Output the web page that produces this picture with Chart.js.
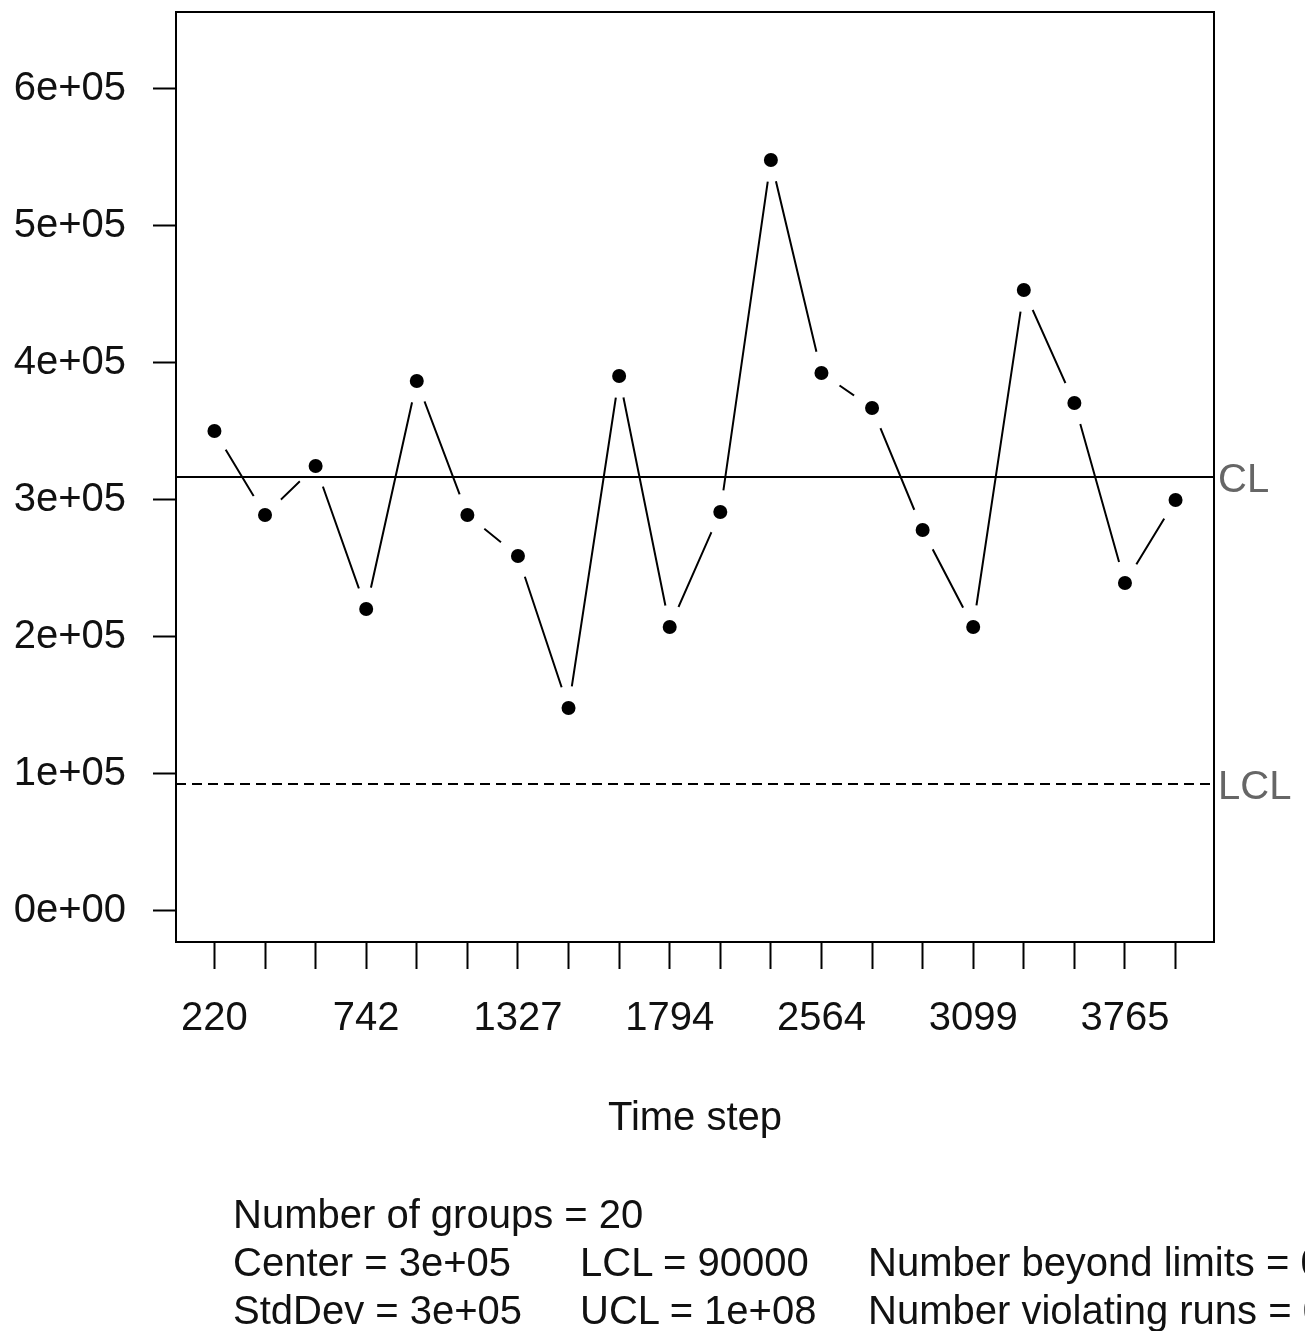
<!DOCTYPE html>
<html>
<head>
<meta charset="utf-8">
<script src="https://cdn.jsdelivr.net/npm/chart.js@4/dist/chart.umd.min.js"></script>
<style>
  html, body { margin: 0; padding: 0; background: #fff; overflow: hidden; width: 1305px; height: 1331px; }
  #wrap { position: relative; width: 1305px; height: 1331px; overflow: hidden; }
  #c { position: absolute; left: 0; top: 0; }
  .stat { position: absolute; font-family: "Liberation Sans", Arial, sans-serif; font-size: 40px;
          line-height: 48px; color: #111; white-space: nowrap; }
</style>
</head>
<body>
<div id="wrap">
  <canvas id="c" width="1305" height="1331"></canvas>
</div>
<script>
// Group statistics (one value per time-step group)
const groupIndex  = [1, 2, 3, 4, 5, 6, 7, 8, 9, 10, 11, 12, 13, 14, 15, 16, 17, 18, 19, 20];
const groupValues = [350400, 289100, 324800, 220400, 386900, 289100, 259100, 148200, 390500, 207300,
                     291200, 548200, 392700, 367200, 278100, 207300, 453300, 370800, 239400, 300000];

// Labelled positions along the time axis
const tickPositions = [1, 4, 7, 10, 13, 16, 19];
const tickLabels    = ['220', '742', '1327', '1794', '2564', '3099', '3765'];

// Value axis
const yTickValues = [0, 100000, 200000, 300000, 400000, 500000, 600000];
const yTickLabels = ['0e+00', '1e+05', '2e+05', '3e+05', '4e+05', '5e+05', '6e+05'];

// Control limits
const centerLine = 316800;
const lowerLimit = 92700;

// Axis ranges
const xRange = [0.24, 20.76];
const yRange = [-22628, 656200];

// Summary block under the chart: columns of lines
const summaryColumns = [
  ['Number of groups = 20', 'Center = 3e+05', 'StdDev = 3e+05'],
  ['', 'LCL = 90000', 'UCL = 1e+08'],
  ['', 'Number beyond limits = 0', 'Number violating runs = 0']
];
const summaryLeft = [233, 580, 868];

const FONT = '"Liberation Sans", Arial, sans-serif';

// summary text as real DOM text
const wrap = document.getElementById('wrap');
summaryColumns.forEach((lines, i) => {
  const d = document.createElement('div');
  d.className = 'stat';
  d.style.left = summaryLeft[i] + 'px';
  d.style.top = '1190px';
  d.innerHTML = lines.map(t => t === '' ? '&nbsp;' : t).join('<br>');
  wrap.appendChild(d);
});

const points = groupIndex.map((x, i) => ({ x: x, y: groupValues[i] }));

// frame around the plotting region
const framePlugin = {
  id: 'frame',
  afterDatasetsDraw(chart) {
    const a = chart.chartArea, ctx = chart.ctx;
    ctx.save();
    ctx.strokeStyle = '#000';
    ctx.lineWidth = 2;
    ctx.strokeRect(a.left, a.top, a.right - a.left, a.bottom - a.top);
    ctx.restore();
  }
};

// CL / LCL labels in the right margin
const limitLabels = {
  id: 'limitLabels',
  afterDraw(chart) {
    const ctx = chart.ctx, y = chart.scales.y, a = chart.chartArea;
    ctx.save();
    ctx.font = '40px ' + FONT;
    ctx.fillStyle = '#666';
    ctx.textAlign = 'left';
    ctx.textBaseline = 'middle';
    ctx.fillText('CL', a.right + 4, y.getPixelForValue(centerLine) + 4);
    ctx.fillText('LCL', a.right + 4, y.getPixelForValue(lowerLimit) + 4);
    ctx.restore();
  }
};

new Chart(document.getElementById('c'), {
  type: 'line',
  data: {
    datasets: [
      { // connecting line, broken around each point
        data: points,
        borderColor: '#000',
        borderWidth: 2,
        pointRadius: 22,
        pointBackgroundColor: '#fff',
        pointBorderWidth: 0,
        pointBorderColor: '#fff',
        tension: 0,
        order: 3
      },
      { // the points
        data: points,
        showLine: false,
        pointRadius: 7,
        pointBackgroundColor: '#000',
        pointBorderWidth: 0,
        order: 2
      },
      { // center line
        data: [{ x: xRange[0], y: centerLine }, { x: xRange[1], y: centerLine }],
        borderColor: '#000',
        borderWidth: 2,
        pointRadius: 0,
        order: 1
      },
      { // lower control limit
        data: [{ x: xRange[0], y: lowerLimit }, { x: xRange[1], y: lowerLimit }],
        borderColor: '#000',
        borderWidth: 2,
        borderDash: [10, 6],
        pointRadius: 0,
        order: 1
      }
    ]
  },
  options: {
    responsive: false,
    animation: false,
    events: [],
    layout: { autoPadding: false, padding: { left: 0, top: 12, right: 91, bottom: 183 } },
    plugins: { legend: { display: false }, tooltip: { enabled: false } },
    scales: {
      x: {
        type: 'linear',
        position: 'bottom',
        min: xRange[0],
        max: xRange[1],
        afterBuildTicks: s => { s.ticks = groupIndex.map(v => ({ value: v })); },
        afterFit: s => { s.height = 206; s.paddingLeft = 0; s.paddingRight = 0; },
        ticks: {
          autoSkip: false,
          maxRotation: 0,
          padding: 26,
          color: '#111',
          font: { family: FONT, size: 40 },
          callback: v => { const k = tickPositions.indexOf(v); return k >= 0 ? tickLabels[k] : ''; }
        },
        grid: { drawOnChartArea: false, drawTicks: true, tickLength: 27, tickWidth: 2, tickColor: '#000', color: '#000' },
        border: { display: true, color: '#000', width: 2 },
        title: {
          display: true, text: 'Time step', color: '#111',
          font: { family: FONT, size: 40 }, padding: { top: 0, bottom: 5 }
        }
      },
      y: {
        type: 'linear',
        min: yRange[0],
        max: yRange[1],
        afterBuildTicks: s => { s.ticks = yTickValues.map(v => ({ value: v })); },
        afterFit: s => { s.width = 176; s.paddingTop = 0; s.paddingBottom = 0; },
        ticks: {
          padding: 27,
          color: '#111',
          font: { family: FONT, size: 40 },
          callback: v => { const k = yTickValues.indexOf(v); return k >= 0 ? yTickLabels[k] : ''; }
        },
        grid: { drawOnChartArea: false, drawTicks: true, tickLength: 23, tickWidth: 2, tickColor: '#000', color: '#000' },
        border: { display: true, color: '#000', width: 2 }
      }
    }
  },
  plugins: [framePlugin, limitLabels]
});
</script>
</body>
</html>
